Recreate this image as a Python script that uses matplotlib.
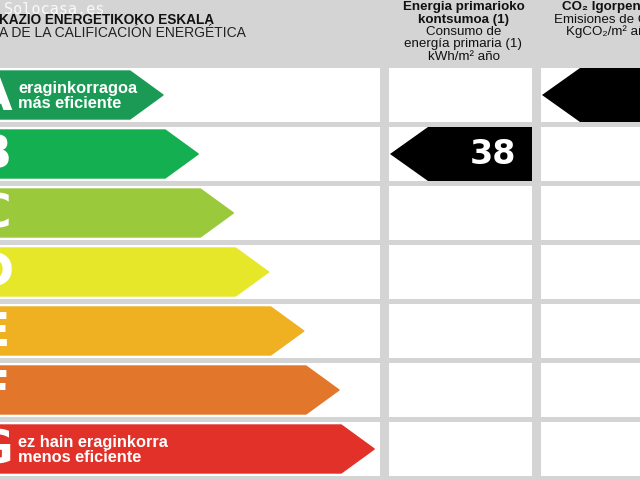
import matplotlib
matplotlib.use("Agg")
import matplotlib.pyplot as plt
from matplotlib.patches import Rectangle, Polygon

# energy rating classes, most to least efficient
classes = ["A", "B", "C", "D", "E", "F", "G"]
class_colors = ["#1b9a55", "#13af50", "#9bc93c", "#e6e729", "#efb021", "#e2762a", "#e23128"]
top_note = ["eraginkorragoa", "más eficiente"]
bottom_note = ["ez hain eraginkorra", "menos eficiente"]

# building result
consumo_class = "B"
consumo_value = 38
emisiones_class = "A"

title_lines = ["KAZIO ENERGETIKOKO ESKALA", "A DE LA CALIFICACIÓN ENERGÉTICA"]
consumo_header = [("Energia primarioko", "bold"), ("kontsumoa (1)", "bold"),
                  ("Consumo de", "normal"), ("energía primaria (1)", "normal"),
                  ("kWh/m² año", "normal")]
emis_header = [("CO₂ Igorpenak", "bold"), ("Emisiones de CO₂", "normal"),
               ("KgCO₂/m² año", "normal")]

# layout (pixels)
row0, pitch, box_h = 68, 59, 54
left_col = (0, 380)
mid_col = (389, 532)
right_col = (541, 690)
arrow_base, arrow_step, arrow_head = 163, 35.2, 33

bg = "#d4d4d4"
fig = plt.figure(figsize=(6.4, 4.8), dpi=100, facecolor=bg)
ax = fig.add_axes([0, 0, 1, 1])
ax.set_xlim(0, 640)
ax.set_ylim(480, 0)
ax.axis("off")
ax.set_facecolor(bg)

font = "Liberation Sans"

for i, (cls, col) in enumerate(zip(classes, class_colors)):
    top = row0 + i * pitch
    cy = top + box_h / 2
    for x0, x1 in (left_col, mid_col, right_col):
        ax.add_patch(Rectangle((x0, top), x1 - x0, box_h, facecolor="white", edgecolor="none"))
    # coloured class arrow
    tip = arrow_base + i * arrow_step
    half = box_h / 2 - 3
    ax.add_patch(Polygon([(-20, cy - half), (tip - arrow_head, cy - half), (tip, cy),
                          (tip - arrow_head, cy + half), (-20, cy + half)],
                         closed=True, facecolor=col, edgecolor=col, lw=1, joinstyle="round"))
    ax.text(-6, cy + 2, cls, color="white", fontsize=34, fontweight="bold",
            family="DejaVu Sans", ha="center", va="center")
    if i == 0:
        note = top_note
    elif i == len(classes) - 1:
        note = bottom_note
    else:
        note = None
    if note:
        ax.text(18, cy - 7, note[0], color="white", fontsize=11.8, fontweight="bold",
                family=font, ha="left", va="center")
        ax.text(18, cy + 8, note[1], color="white", fontsize=11.8, fontweight="bold",
                family=font, ha="left", va="center")

# black result arrows
ci = classes.index(consumo_class)
top = row0 + ci * pitch
cy = top + box_h / 2
ax.add_patch(Polygon([(mid_col[0] + 1, cy), (mid_col[0] + 39, top), (mid_col[1], top),
                      (mid_col[1], top + box_h), (mid_col[0] + 39, top + box_h)],
                     closed=True, facecolor="black", edgecolor="none"))
ax.text(mid_col[1] - 16, cy + 1, str(consumo_value), color="white", fontsize=24,
        fontweight="bold", family="DejaVu Sans", ha="right", va="center")

ei = classes.index(emisiones_class)
top = row0 + ei * pitch
cy = top + box_h / 2
ax.add_patch(Polygon([(right_col[0] + 1, cy), (right_col[0] + 39, top), (right_col[1], top),
                      (right_col[1], top + box_h), (right_col[0] + 39, top + box_h)],
                     closed=True, facecolor="black", edgecolor="none"))

# headers
ax.text(-1, 20, title_lines[0], fontsize=9.8, fontweight="bold", family=font,
        ha="left", va="center", color="#111111")
ax.text(-1, 33, title_lines[1], fontsize=10, family=font, ha="left", va="center",
        color="#222222")

mid_x = (mid_col[0] + mid_col[1]) / 2 + 3
for k, (txt, w) in enumerate(consumo_header):
    ax.text(mid_x, 7 + k * 12.5, txt, fontsize=9.6, fontweight=w, family=font,
            ha="center", va="center", color="#111111")
right_x = 609
for k, (txt, w) in enumerate(emis_header):
    ax.text(right_x, 7 + k * 12.5, txt, fontsize=9.6, fontweight=w, family=font,
            ha="center", va="center", color="#111111")

# watermark
ax.text(4, 9, "Solocasa.es", fontsize=11, family="DejaVu Sans Mono", color="white",
        alpha=0.85, ha="left", va="center")

fig.savefig("out.png", dpi=100, facecolor=bg)
